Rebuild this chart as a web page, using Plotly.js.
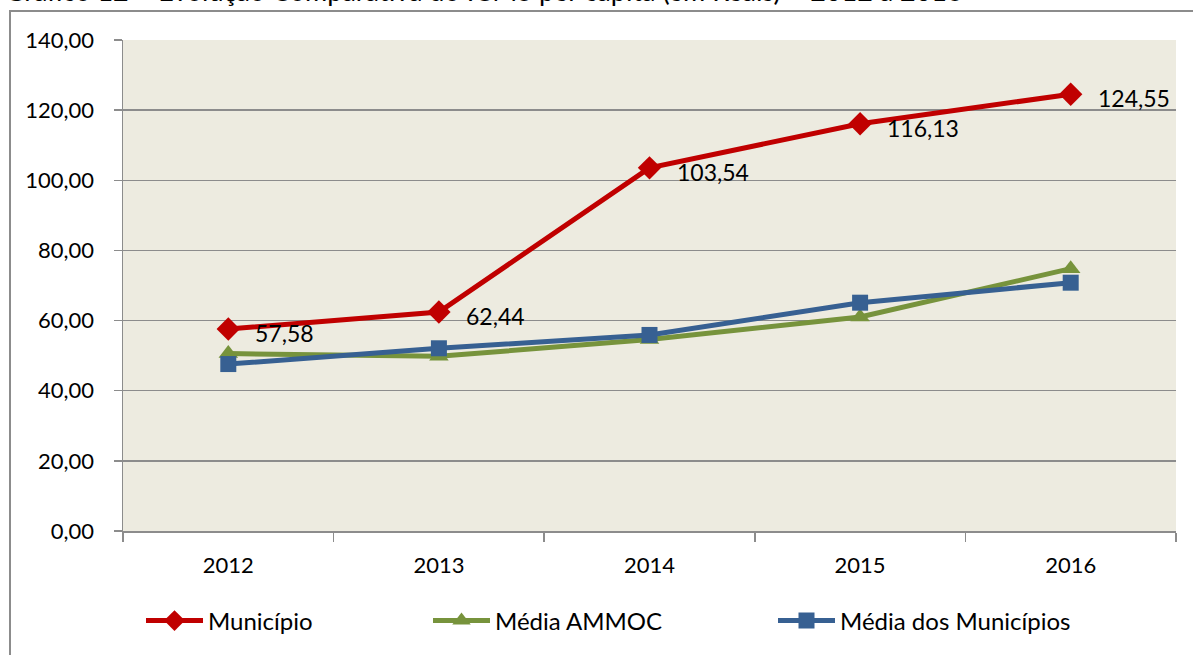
<!DOCTYPE html>
<html>
<head>
<meta charset="utf-8">
<script src="https://cdn.plot.ly/plotly-3.0.1.min.js"></script>
<style>
  body { margin: 0; background: #fff; }
  #plotArea { position: absolute; left: 0; top: 0; width: 1193px; height: 655px; }
  #frame { position: absolute; left: 9px; top: 10px; width: 1300px; height: 800px;
           border: 2px solid #8c8c8c; pointer-events: none; }
</style>
</head>
<body>
<div id="plotArea"></div>
<div id="frame"></div>
<script>
var anos = ["2012", "2013", "2014", "2015", "2016"];
var municipio = [57.58, 62.44, 103.54, 116.13, 124.55];
var mediaAmmoc = [50.6, 49.8, 54.6, 61.0, 74.8];
var mediaMunicipios = [47.6, 52.1, 55.9, 65.1, 70.8];

var fonte = "Lato, 'Open Sans', sans-serif";

var trace1 = {
  x: anos,
  y: municipio,
  mode: 'lines+markers',
  type: 'scatter',
  name: 'Município',
  legend: 'legend',
  line: { color: '#C00000', width: 5 },
  marker: { symbol: 'diamond', size: 18, color: '#C00000' }
};

var trace2 = {
  x: anos,
  y: mediaAmmoc,
  mode: 'lines+markers',
  type: 'scatter',
  name: 'Média AMMOC',
  legend: 'legend2',
  line: { color: '#77933C', width: 5 },
  marker: { symbol: 'triangle-up', size: 17, color: '#77933C' }
};

var trace3 = {
  x: anos,
  y: mediaMunicipios,
  mode: 'lines+markers',
  type: 'scatter',
  name: 'Média dos Municípios',
  legend: 'legend3',
  line: { color: '#376092', width: 5 },
  marker: { symbol: 'square', size: 16, color: '#376092' }
};

var data = [ trace1, trace2, trace3 ];

// rótulos de dados só na série do município (x = índice da categoria)
var rotulos = municipio.map(function (v, i) {
  return {
    x: i, y: v, xref: 'x', yref: 'y',
    text: v.toFixed(2).replace('.', ','),
    showarrow: false, xanchor: 'left', xshift: 25, yshift: -4,
    font: { family: fonte, size: 23, color: '#000' }
  };
});

function legenda(px) {
  return {
    orientation: 'h',
    x: (px - 7) / 1193, xanchor: 'left', xref: 'container',
    y: 1 - 621 / 655, yanchor: 'middle', yref: 'container',
    itemwidth: 57,
    font: { family: fonte, size: 24, color: '#000' },
    bgcolor: 'rgba(0,0,0,0)'
  };
}

var layout = {
  width: 1193,
  height: 655,
  separators: ',.',
  font: { family: fonte, size: 22, color: '#000' },
  paper_bgcolor: '#ffffff',
  plot_bgcolor: '#EDEBE0',
  margin: { l: 123, r: 17, t: 40, b: 124 },
  title: {
    text: 'Gráfico 12 – Evolução Comparativa do ICMS per capita (em Reais) – 2012 a 2016',
    font: { family: fonte, size: 27, color: '#000' },
    x: 0.004, xanchor: 'left',
    y: 1 - 1 / 655, yanchor: 'bottom', yref: 'container'
  },
  xaxis: {
    type: 'category',
    range: [-0.5, 4.5],
    tickson: 'boundaries',
    ticks: 'outside', ticklen: 9, tickcolor: '#8c8c8c', tickwidth: 1.5,
    showline: true, linecolor: '#8c8c8c', linewidth: 1.5,
    showgrid: false,
    ticklabelstandoff: 14,
    tickfont: { size: 22 }
  },
  yaxis: {
    range: [0, 140],
    dtick: 20,
    tickformat: '.2f',
    ticks: 'outside', ticklen: 8, tickcolor: '#8c8c8c', tickwidth: 1.5,
    showline: true, linecolor: '#8c8c8c', linewidth: 1.5,
    gridcolor: '#8c8c8c', gridwidth: 1.5,
    zeroline: false,
    ticklabelstandoff: 15,
    tickfont: { size: 22 }
  },
  showlegend: true,
  legend: legenda(148),
  legend2: legenda(435),
  legend3: legenda(780),
  annotations: rotulos
};

Plotly.newPlot('plotArea', data, layout, { displayModeBar: false, staticPlot: true });
</script>
</body>
</html>
